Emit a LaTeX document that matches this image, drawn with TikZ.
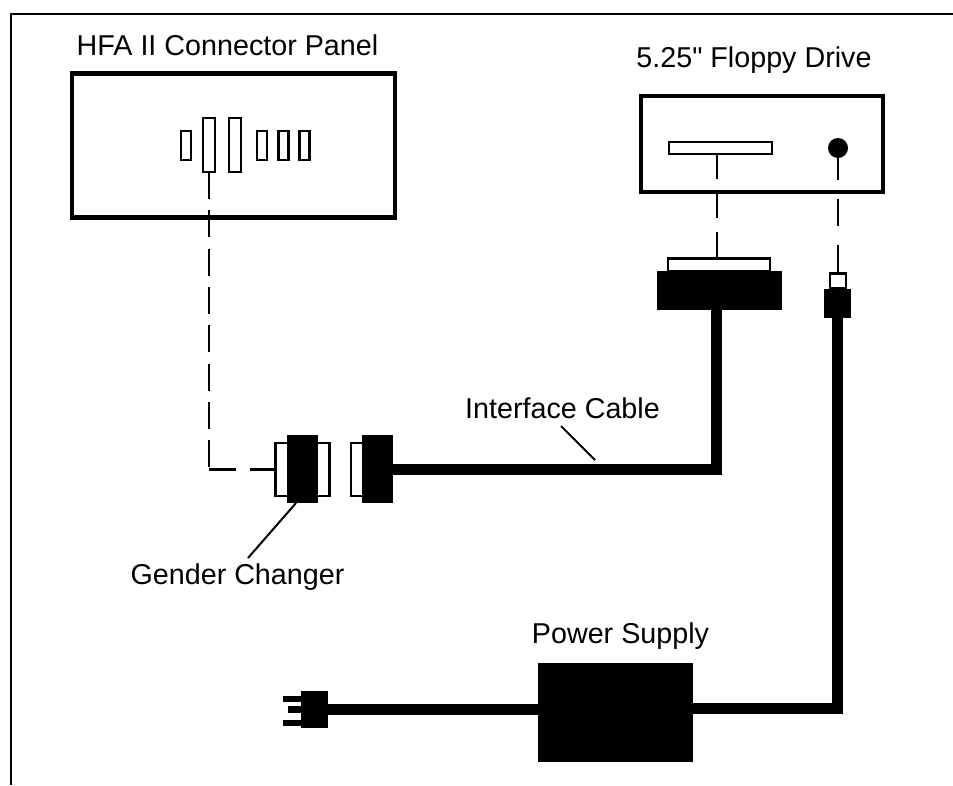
\documentclass[tikz,border=0pt]{standalone}
\usepackage{fontspec}
\setmainfont{Liberation Sans}
\newfontfamily\plainquote{Liberation Sans}
\begin{document}
\begin{tikzpicture}[x=1pt, y=-1pt,
    panelbox/.style={draw, line width=4.6pt, inner sep=0pt, outer sep=0pt},
    outline/.style={draw, fill=white, line width=2.6pt, inner sep=0pt, outer sep=0pt},
    smallport/.style={outline, minimum width=10pt, minimum height=29pt},
    tallport/.style={outline, minimum width=12pt, minimum height=54pt},
    solidblock/.style={fill=black, inner sep=0pt, outer sep=0pt},
    shellbox/.style={outline, minimum width=54pt, minimum height=53pt},
    dashline/.style={line width=2.2pt},
    cable/.style={line width=11pt},
    leader/.style={line width=2pt},
    caption/.style={anchor=base, inner sep=0pt, font=\fontsize{28.7}{32}\selectfont}]
  \useasboundingbox (0,0) rectangle (953,785);
  \draw[line width=2.8pt] (11,785) -- (11,14) -- (953,14);
  \node[caption] (paneltext) at (227.5,55) {HFA II Connector Panel};
  \node[caption] (drivetext) at (754,67) {5.25{\plainquote"} Floppy Drive};
  \node[caption] (cabletext) at (562.5,418) {Interface Cable};
  \node[caption] (gendertext) at (237.5,584) {Gender Changer};
  \node[caption] (powertext) at (620.5,643) {Power Supply};
  \node[panelbox, minimum width=323pt, minimum height=144.5pt] (panel) at (233.5,145.5) {};
  \foreach \pname/\px in {porta/186, portd/262, porte/283.5, portf/304.5}
    \node[smallport] (\pname) at (\px,145.5) {};
  \node[tallport] (portb) at (209,145) {};
  \node[tallport] (portc) at (235,145) {};
  \node[panelbox, minimum width=242pt, minimum height=96pt] (drive) at (762,144) {};
  \node[outline, minimum width=103pt, minimum height=12pt] (floppyslot) at (720.5,148) {};
  \node[solidblock, circle, minimum size=20pt] (powerjack) at (838,148) {};
  \node[outline, minimum width=102pt, minimum height=13pt] (ribbonshell) at (719,265) {};
  \node[solidblock, minimum width=125pt, minimum height=39pt] (ribbonplug) at (719.5,290.5) {};
  \node[outline, minimum width=16pt, minimum height=15pt] (powertip) at (838,281) {};
  \node[solidblock, minimum width=27pt, minimum height=29pt] (powerplug) at (837.5,303.5) {};
  \node[shellbox] (gendershell) at (302.5,469.5) {};
  \node[solidblock, minimum width=31pt, minimum height=68pt] (genderblock) at (302.5,469) {};
  \node[outline, minimum width=20pt, minimum height=53pt] (endshell) at (361,469.5) {};
  \node[solidblock, minimum width=31pt, minimum height=68pt] (endblock) at (377.5,469) {};
  \node[solidblock, minimum width=155pt, minimum height=99pt] (supply) at (615.5,712.5) {};
  \node[solidblock, minimum width=27pt, minimum height=37pt] (acplug) at (314.5,709.5) {};
  \node[solidblock, minimum width=18pt, minimum height=6pt] (prongtop) at (292,699) {};
  \node[solidblock, minimum width=13pt, minimum height=7pt] (prongmid) at (294.5,709.5) {};
  \node[solidblock, minimum width=18pt, minimum height=6pt] (prongbot) at (292,723) {};
  \coordinate (bendpoint) at (portb.south |- gendershell.west);
  \coordinate (genderend) at (248,558);
  \coordinate (cableend) at (561,426);
  \draw[dashline, dash pattern=on 27pt off 11.3pt] (portb.south) -- (bendpoint);
  \draw[dashline, dash pattern=on 27pt off 14pt] (bendpoint) -- (gendershell.west);
  \draw[dashline, dash pattern=on 25pt off 14pt] ([xshift=-3.5pt]floppyslot.south) -- ([xshift=-2pt]ribbonshell.north);
  \draw[dashline, dash pattern=on 27pt off 19pt, dash phase=5pt] (powerjack.south) -- (powertip.north);
  \draw[cable] (endblock.east) -| ([xshift=-3pt]ribbonplug.south);
  \draw[cable] ([yshift=4pt]supply.east) -| (powerplug.south);
  \draw[cable] (acplug.east) -- (acplug.east -| supply.west);
  \draw[leader] (genderend) -- ([xshift=-6.5pt]genderblock.south);
  \draw[leader] (cableend) -- (595,460);
\end{tikzpicture}
\end{document}
